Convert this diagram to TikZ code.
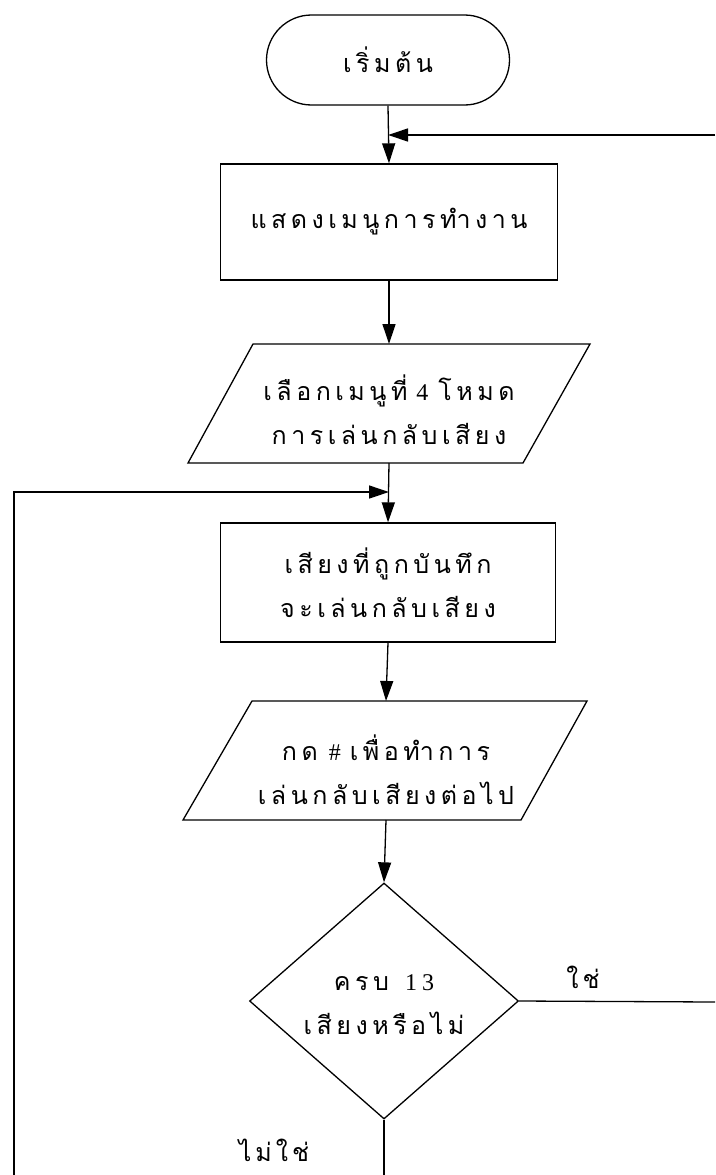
\documentclass[tikz,border=0pt]{standalone}
\usepackage{fontspec}
\newfontfamily\thaifont[Script=Thai]{Loma}
\newfontfamily\digitfont{Liberation Serif}
\usetikzlibrary{arrows.meta,shapes.geometric,calc}

% Thai text with wide gaps between letter clusters
\newcommand\flowtext{\thaifont\fontsize{25}{44}\selectfont\spaceskip 4.5pt\relax}
\newcommand\labeltext{\thaifont\fontsize{25}{30}\selectfont\spaceskip 4pt\relax}
% digits and signs set in a serif face
\newcommand\dg[1]{{\digitfont\fontsize{24}{24}\selectfont #1}}
% two centred lines with a fixed distance between their baselines
\newcommand\twolines[2]{\vbox{\baselineskip=44pt\lineskiplimit=-100pt\lineskip=0pt
  \halign{\hfil##\hfil\cr#1\cr#2\cr}}}

\tikzset{
  txt/.style={inner sep=0pt,font=\flowtext},
  terminal/.style={txt,draw,line width=1.3pt,rounded corners=45pt,
    minimum width=243pt,minimum height=90pt},
  procbox/.style={draw,line width=1.3pt,minimum width=337pt,minimum height=116pt},
  decision/.style={draw,line width=1.3pt,shape=diamond,inner sep=0pt,
    minimum width=269pt,minimum height=236pt},
  lbl/.style={font=\labeltext,inner sep=0pt},
  flow/.style={line width=1.3pt},
  arr/.style={flow,-{Triangle[length=20pt,width=13pt]}},
}

\begin{document}
\begin{tikzpicture}[x=1pt,y=-1pt]
\useasboundingbox (0,0) rectangle (715,1175);

% process steps
\node[terminal] (start) at (388,60) {เ ริ่ ม ต้ น};
\node[txt,procbox] (menu) at (389,222) {แ ส ด ง เ ม นู ก า ร ทำ ง า น};
\node[txt] (sel) at (389,410)
  {\twolines{เ ลื อ ก เ ม นู ที่\hspace{9pt}\dg{4}\hspace{10pt}โ ห ม ด}{ก า ร เ ล่ น ก ลั บ เ สี ย ง}};
\node[txt,procbox,minimum width=335pt,minimum height=119pt] (rec) at (388,582.5)
  {\twolines{เ สี ย ง ที่ ถู ก บั น ทึ ก}{จ ะ เ ล่ น ก ลั บ เ สี ย ง}};
\node[txt] (press) at (386,770)
  {\twolines{ก ด\hspace{11pt}\dg{\#}\hspace{9pt}เ พื่ อ ทำ ก า ร}{เ ล่ น ก ลั บ เ สี ย ง ต่ อ ไ ป}};
\node[decision] (chk) at (384,1001) {};
\node[txt] (chktext) at (384,1005)
  {\twolines{ค ร บ\hspace{16pt}\dg{1\hspace{5pt}3}}{เ สี ย ง ห รื อ ไ ม่}};

% input/output parallelograms drawn round their text
\draw[flow] ($(sel)+(-201,53)$) -- ($(sel)+(-136,-66)$) -- ($(sel)+(201,-66)$)
  -- ($(sel)+(134,53)$) -- cycle;
\coordinate (seltop) at ($(sel)+(0,-66)$);
\coordinate (selbot) at ($(sel)+(0,53)$);
\draw[flow] ($(press)+(-203,50)$) -- ($(press)+(-134,-69)$) -- ($(press)+(201,-69)$)
  -- ($(press)+(135,50)$) -- cycle;
\coordinate (prtop) at ($(press)+(0,-69)$);
\coordinate (prbot) at ($(press)+(0,50)$);

% branch labels
\node[lbl] (yes) at (583,977) {ใ ช่};
\node[lbl] (no) at (274,1150) {ไ ม่ ใ ช่};

% joints and free ends of the loops
\coordinate (j1) at (start.south |- 0,135);
\coordinate (rtop) at (715,135);
\coordinate (j2) at (selbot |- 0,492);
\coordinate (lt) at (14,492);
\coordinate (lb) at (14,1175);
\coordinate (yend) at (715,1002);
\coordinate (nend) at (chk.south |- 0,1175);

% main flow
\draw[arr] (start.south) -- (menu.north);
\draw[arr] (rtop) -- (j1);
\draw[arr] (menu.south) -- (seltop);
\draw[arr] (selbot) -- (rec.north);
\draw[arr] (lb) -- (lt) -- (j2);
\draw[arr] (rec.south) -- (prtop);
\draw[arr] (prbot) -- (chk.north);
\draw[flow] (chk.east) -- (yend);
\draw[flow] (chk.south) -- (nend);
\end{tikzpicture}
\end{document}
